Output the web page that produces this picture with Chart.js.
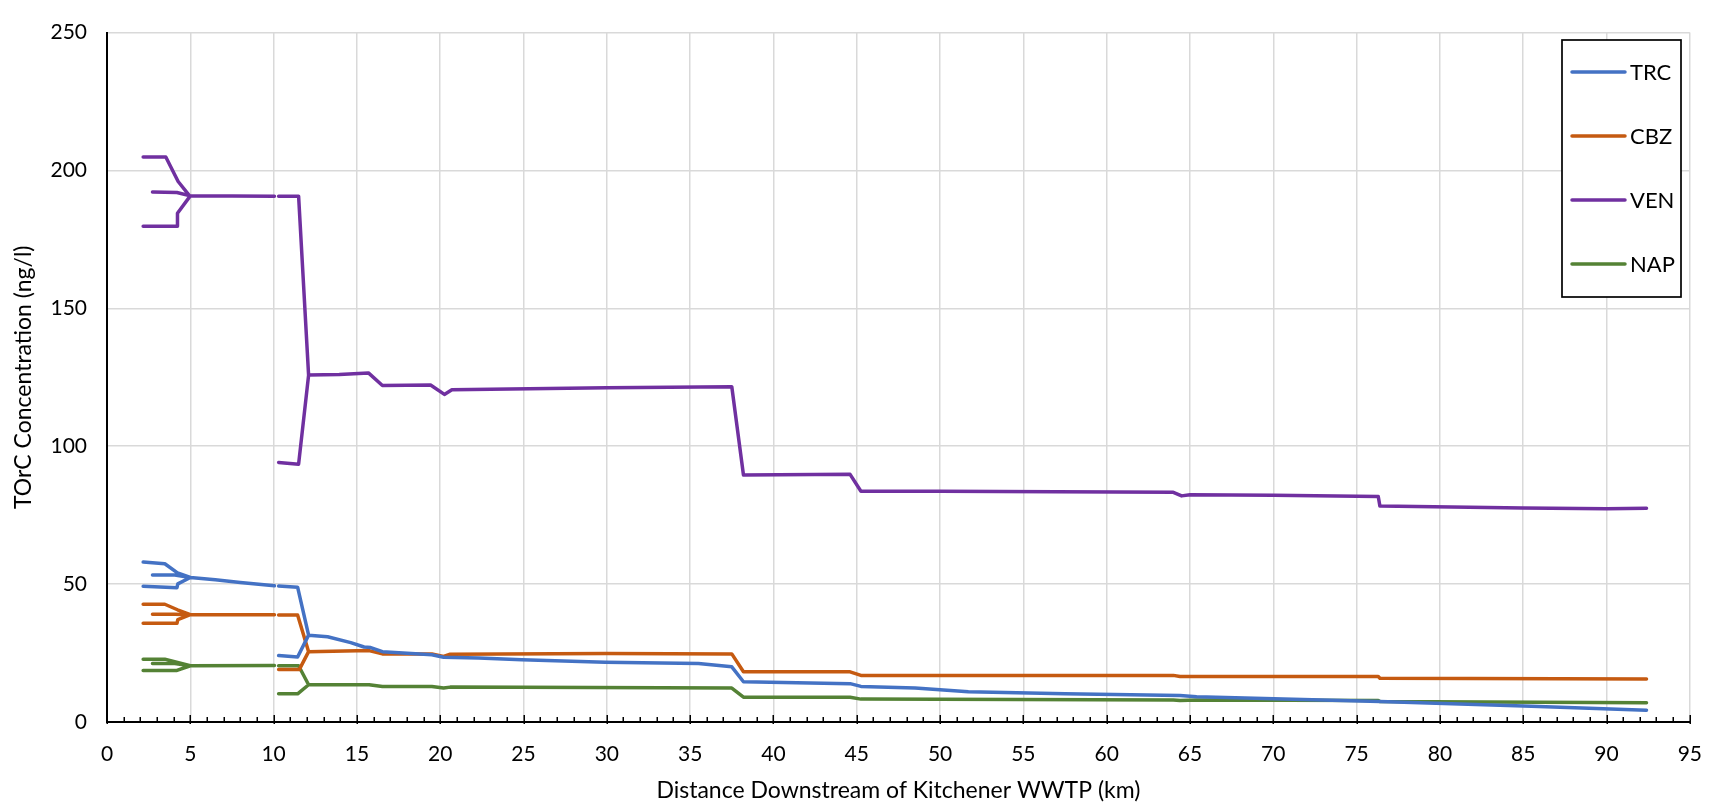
<!DOCTYPE html>
<html><head><meta charset="utf-8">
<script src="https://cdn.jsdelivr.net/npm/chart.js@4.4.0/dist/chart.umd.min.js"></script>
<style>html,body{margin:0;padding:0;background:#fff;}#wrap{width:1722px;height:811px;}</style>
</head><body><div id="wrap"><canvas id="c" width="1722" height="811"></canvas></div>
<script>
const seriesNames = ['TRC', 'CBZ', 'VEN', 'NAP'];
const seriesColors = ['#4472C4', '#C55A11', '#7030A0', '#548235'];
const xAxisTitle = 'Distance Downstream of Kitchener WWTP (km)';
const yAxisTitle = 'TOrC Concentration (ng/l)';

// null separates river branches (tributaries / parallel reaches)
const TRC_X = [2.17,3.47,4.23,5.0,6.5,8.0,10.05, null, 2.73,4.07,5.0, null, 2.17,4.2,4.25,5.0, null,
  10.3,11.44,12.1,13.24,14.63,15.43,15.83,16.53,19.5,20.2,22.3,24.9,29.9,35.5,37.5,38.2,44.6,45.25,48.5,51.7,57.5,64.4,65.4,76.4,85.5,92.4, null,
  10.3,11.44,12.1];
const TRC_Y = [58.0,57.4,54.1,52.4,51.6,50.6,49.4, null, 53.3,53.3,52.4, null, 49.2,48.7,50.1,52.4, null,
  49.3,48.9,31.5,30.9,28.8,27.2,27.0,25.5,24.4,23.5,23.2,22.6,21.7,21.2,20.0,14.6,13.9,12.9,12.3,11.0,10.2,9.6,9.2,7.45,5.7,4.25, null,
  24.1,23.6,31.5];

const CBZ_X = [2.17,3.47,4.23,5.0,10.05, null, 2.73,4.07,5.0, null, 2.17,4.2,4.25,5.0, null,
  10.3,11.44,12.1,15.73,16.53,19.5,20.2,20.6,30.0,37.5,38.2,44.6,45.25,64.0,64.4,76.3,76.4,92.4, null,
  10.3,11.54,12.1];
const CBZ_Y = [42.7,42.7,40.7,38.9,38.9, null, 39.1,39.1,38.9, null, 35.8,35.8,37.1,38.9, null,
  38.8,38.8,25.5,25.9,24.7,24.7,23.8,24.6,24.8,24.7,18.2,18.2,16.9,16.9,16.5,16.5,15.85,15.6, null,
  19.0,19.0,25.5];

const VEN_X = [2.17,3.53,4.27,4.96,10.05, null, 2.73,4.2,5.0, null, 2.17,4.23,4.23,5.0, null,
  10.3,11.5,12.1,13.94,15.69,16.53,19.42,20.25,20.7,30.0,37.5,38.2,44.6,45.25,50.0,64.0,64.5,65.0,70.0,76.3,76.4,85.0,90.0,92.4, null,
  10.3,11.5,12.1];
const VEN_Y = [204.9,204.9,196.0,190.8,190.7, null, 192.2,192.0,190.8, null, 179.8,179.8,184.5,190.8, null,
  190.7,190.7,125.8,126.0,126.6,122.0,122.2,118.8,120.5,121.2,121.6,89.6,89.8,83.7,83.7,83.3,82.0,82.4,82.2,81.8,78.3,77.6,77.3,77.5, null,
  94.1,93.5,125.8];

const NAP_X = [2.17,3.47,5.0,10.05, null, 2.73,4.07,5.0, null, 2.17,4.2,5.0, null,
  10.3,11.5,12.1,15.73,16.53,19.5,20.2,20.6,37.5,38.2,44.6,45.25,64.0,64.4,65.4,76.3,76.4,92.4, null,
  10.3,11.44,12.1];
const NAP_Y = [22.8,22.8,20.4,20.5, null, 21.2,21.2,20.4, null, 18.7,18.7,20.4, null,
  20.4,20.4,13.5,13.5,12.9,12.9,12.3,12.65,12.3,9.0,9.0,8.3,8.0,7.8,8.0,7.8,7.45,7.0, null,
  10.2,10.2,13.5];

const xMin = 0, xMax = 95, xStep = 5;
const yMin = 0, yMax = 250, yStep = 50;

function toPoints(xs, ys) {
  return xs.map((x, i) => x === null ? { x: xs[i - 1], y: null } : { x: x, y: ys[i] });
}
const seriesX = [TRC_X, CBZ_X, VEN_X, NAP_X];
const seriesY = [TRC_Y, CBZ_Y, VEN_Y, NAP_Y];

const FONT = 'Lato';

const axisTicksPlugin = {
  id: 'axisTicks',
  afterDraw(chart) {
    const ctx = chart.ctx, xs = chart.scales.x, area = chart.chartArea;
    ctx.save();
    ctx.strokeStyle = '#000';
    ctx.lineWidth = 1.5;
    for (let v = xMin; v <= xMax; v++) {
      const px = Math.round(xs.getPixelForValue(v)) + 0.25;
      const major = v % xStep === 0;
      ctx.beginPath();
      ctx.moveTo(px, area.bottom + (major ? 2 : 0));
      ctx.lineTo(px, area.bottom - (major ? 7 : 5));
      ctx.stroke();
    }
    ctx.restore();
  }
};

const boxLegendPlugin = {
  id: 'boxLegend',
  afterDraw(chart) {
    const ctx = chart.ctx;
    const bx = 1562, by = 40, bw = 119, bh = 257;
    ctx.save();
    ctx.fillStyle = '#fff';
    ctx.fillRect(bx, by, bw, bh);
    ctx.strokeStyle = '#000';
    ctx.lineWidth = 1.7;
    ctx.strokeRect(bx, by, bw, bh);
    ctx.font = '22px ' + FONT;
    ctx.textBaseline = 'middle';
    ctx.textAlign = 'left';
    chart.data.datasets.forEach((ds, i) => {
      const y = 72 + i * 64;
      ctx.strokeStyle = ds.borderColor;
      ctx.lineWidth = 3.5;
      ctx.lineCap = 'round';
      ctx.beginPath();
      ctx.moveTo(1572, y);
      ctx.lineTo(1625, y);
      ctx.stroke();
      ctx.fillStyle = '#000';
      ctx.fillText(ds.label, 1630, y + 1);
    });
    ctx.restore();
  }
};

new Chart(document.getElementById('c'), {
  type: 'scatter',
  data: {
    datasets: seriesNames.map((name, i) => ({
      label: name,
      data: toPoints(seriesX[i], seriesY[i]),
      showLine: true,
      borderColor: seriesColors[i],
      backgroundColor: seriesColors[i],
      borderWidth: 3.5,
      pointRadius: 0,
      pointHoverRadius: 0,
      spanGaps: false,
      tension: 0,
      fill: false,
      borderJoinStyle: 'round',
      borderCapStyle: 'round'
    }))
  },
  options: {
    responsive: false,
    animation: false,
    devicePixelRatio: 1,
    layout: { padding: { top: 17, right: 27, left: 0, bottom: 0 } },
    plugins: { legend: { display: false }, tooltip: { enabled: false } },
    scales: {
      x: {
        type: 'linear', min: xMin, max: xMax,
        ticks: { stepSize: xStep, color: '#000', padding: 20, font: { family: FONT, size: 21 } },
        grid: { color: '#d9d9d9', lineWidth: 1.5, drawTicks: false },
        border: { color: '#000', width: 2 },
        title: { display: true, text: xAxisTitle, color: '#000', font: { family: FONT, size: 23 }, padding: { top: 0, bottom: 7 } },
        afterFit(s) { s.height = 89; }
      },
      y: {
        type: 'linear', min: yMin, max: yMax,
        ticks: { stepSize: yStep, color: '#000', padding: 20, font: { family: FONT, size: 21 } },
        grid: { color: '#d9d9d9', lineWidth: 1.5, drawTicks: false },
        border: { color: '#000', width: 2 },
        title: { display: true, text: yAxisTitle, color: '#000', font: { family: FONT, size: 23 }, padding: { top: 10, bottom: 0 } },
        afterFit(s) { s.width = 107; }
      }
    }
  },
  plugins: [axisTicksPlugin, boxLegendPlugin]
});
</script></body></html>
